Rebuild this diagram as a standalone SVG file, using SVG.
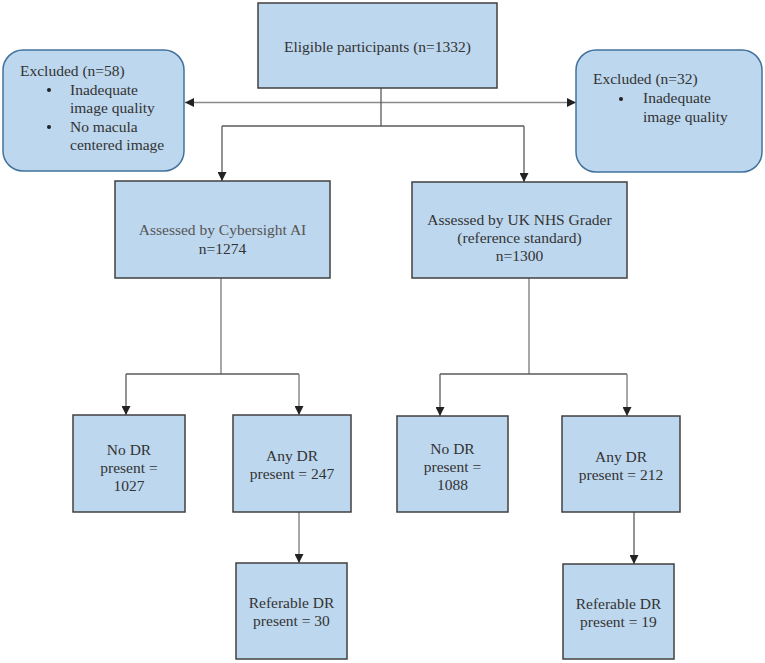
<svg xmlns="http://www.w3.org/2000/svg" width="765" height="663" viewBox="0 0 765 663">
<style>
.box{fill:#bdd7ee;stroke:#404040;stroke-width:1.5}
.ex{fill:#bdd7ee;stroke:#41719c;stroke-width:1.5}
text{font-family:'Liberation Serif','Times New Roman','DejaVu Serif',serif;font-size:15.5px;fill:#333}
.c{text-anchor:middle}
.g{fill:#555}
.ln{fill:none;stroke:#5a5a5a;stroke-width:1.3}
.lg{fill:none;stroke:#8a8a8a;stroke-width:1.5}
</style>
<defs>
<marker id="ah" viewBox="0 0 10 10" refX="10" refY="5" markerWidth="9" markerHeight="9" markerUnits="userSpaceOnUse" orient="auto">
<path d="M0,0 L10,5 L0,10 Z" fill="#222"/>
</marker>
<marker id="ahs" viewBox="0 0 10 10" refX="10" refY="5" markerWidth="9" markerHeight="9" markerUnits="userSpaceOnUse" orient="auto-start-reverse">
<path d="M0,0 L10,5 L0,10 Z" fill="#222"/>
</marker>
</defs>
<g id="connectors">
<line class="lg" x1="185" y1="102.5" x2="576" y2="102.5" marker-start="url(#ahs)" marker-end="url(#ah)"/>
<path class="ln" d="M381,88 V126"/>
<path class="ln" d="M222,126 H524"/>
<path class="ln" d="M222,126 V181" marker-end="url(#ah)"/>
<path class="ln" d="M524,126 V182" marker-end="url(#ah)"/>
<path class="lg" d="M221,278 V374"/>
<path class="ln" d="M126,374 H299"/>
<path class="ln" d="M126,374 V415" marker-end="url(#ah)"/>
<path class="lg" d="M299,374 V415" marker-end="url(#ah)"/>
<path class="lg" d="M299,512 V563" marker-end="url(#ah)"/>
<path class="lg" d="M529,278 V374"/>
<path class="ln" d="M440,374 H627"/>
<path class="ln" d="M440,374 V416" marker-end="url(#ah)"/>
<path class="lg" d="M627,374 V416" marker-end="url(#ah)"/>
<path class="ln" d="M634,512 V564" marker-end="url(#ah)"/>
</g>
<g id="eligible">
<rect class="box" x="258" y="3" width="239" height="85"/>
<text class="c" x="377.5" y="52">Eligible participants (n=1332)</text>
</g>
<g id="excluded-left">
<rect class="ex" x="3" y="50" width="181" height="121" rx="20"/>
<text x="20" y="76">Excluded (n=58)</text>
<circle cx="49" cy="90" r="2" fill="#222"/>
<text x="70" y="95">Inadequate</text>
<text x="70" y="113">image quality</text>
<circle cx="49" cy="127" r="2" fill="#222"/>
<text x="70" y="132">No macula</text>
<text x="70" y="150">centered image</text>
</g>
<g id="excluded-right">
<rect class="ex" x="576" y="50" width="186" height="122" rx="20"/>
<text x="593" y="84">Excluded (n=32)</text>
<circle cx="621" cy="99" r="2" fill="#222"/>
<text x="643" y="103">Inadequate</text>
<text x="643" y="122">image quality</text>
</g>
<g id="cybersight">
<rect class="box" x="115" y="181" width="215" height="97"/>
<text class="c g" x="222.5" y="235">Assessed by Cybersight AI</text>
<text class="c" x="222.5" y="254">n=1274</text>
</g>
<g id="nhs">
<rect class="box" x="412" y="182" width="215" height="96"/>
<text class="c" x="519.5" y="225">Assessed by UK NHS Grader</text>
<text class="c" x="519.5" y="243">(reference standard)</text>
<text class="c" x="519.5" y="261">n=1300</text>
</g>
<g id="nodr-ai">
<rect class="box" x="73" y="415" width="112" height="97"/>
<text class="c" x="129" y="455">No DR</text>
<text class="c" x="129" y="473">present =</text>
<text class="c" x="129" y="491">1027</text>
</g>
<g id="anydr-ai">
<rect class="box" x="233" y="415" width="118" height="97"/>
<text class="c" x="292" y="461">Any DR</text>
<text class="c" x="292" y="479">present = 247</text>
</g>
<g id="ref-ai">
<rect class="box" x="236" y="563" width="111" height="96"/>
<text class="c" x="291.5" y="608">Referable DR</text>
<text class="c" x="291.5" y="626">present = 30</text>
</g>
<g id="nodr-nhs">
<rect class="box" x="397" y="416" width="111" height="96"/>
<text class="c" x="452.5" y="454">No DR</text>
<text class="c" x="452.5" y="472">present =</text>
<text class="c" x="452.5" y="490">1088</text>
</g>
<g id="anydr-nhs">
<rect class="box" x="562" y="416" width="118" height="96"/>
<text class="c" x="621" y="462">Any DR</text>
<text class="c" x="621" y="480">present = 212</text>
</g>
<g id="ref-nhs">
<rect class="box" x="563" y="564" width="111" height="95"/>
<text class="c" x="618.5" y="609">Referable DR</text>
<text class="c" x="618.5" y="627">present = 19</text>
</g>
</svg>
